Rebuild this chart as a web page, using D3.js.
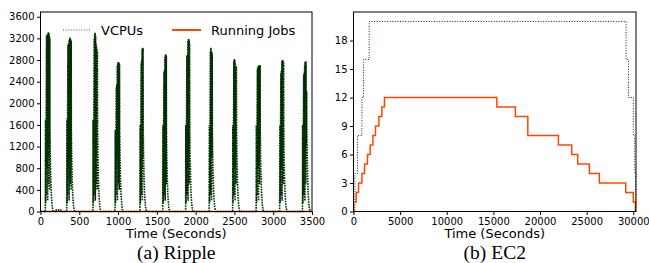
<!DOCTYPE html>
<html>
<head>
<meta charset="utf-8">
<script src="https://cdn.jsdelivr.net/npm/d3@7"></script>
<style>
  body { margin: 0; background: #fff; }
  .tick text { font-family: "DejaVu Sans", sans-serif; font-size: 10px; fill: #000; }
  .axis-label { font-family: "DejaVu Sans", sans-serif; font-size: 13px; fill: #000; }
  .caption { font-family: "Liberation Serif", "Times New Roman", serif; font-size: 19.5px; fill: #000; }
  .legend-text { font-family: "DejaVu Sans", sans-serif; font-size: 13px; fill: #000; }
</style>
</head>
<body>
<script>
// ---- data ----
const rippleXTicks = [0, 500, 1000, 1500, 2000, 2500, 3000, 3500];
const rippleYTicks = [0, 400, 800, 1200, 1600, 2000, 2400, 2800, 3200, 3600];
const ec2XTicks = [0, 5000, 10000, 15000, 20000, 25000, 30000];
const ec2YTicks = [0, 3, 6, 9, 12, 15, 18];

// Ripple VCPUs: [seconds, vcpus], one burst roughly every 300 s
const rippleVcpus = [
  [0,0],
  [62,0],[64,1700],[67,150],[78,3250],[81,300],[84,3260],[87,800],[90,3280],[93,200],[96,3300],[99,1000],[102,3315],[105,500],[108,3300],[111,1200],[114,3250],[117,400],[120,3200],[122,1500],[126,1050],[132,620],[140,300],[150,100],[162,0],
  [200,0],[205,30],[260,30],[265,0],
  [338,0],[340,1700],[343,150],[354,3080],[357,300],[360,3100],[363,800],[366,3150],[369,200],[372,3180],[375,1000],[378,3215],[381,500],[384,3200],[387,1200],[390,3190],[393,400],[396,3150],[398,1500],[402,1050],[408,620],[416,300],[426,100],[438,0],
  [676,0],[678,1700],[681,150],[692,3200],[695,300],[698,3280],[701,800],[704,3308],[707,200],[710,3250],[713,1000],[716,3100],[719,500],[722,3050],[725,1200],[728,3000],[731,400],[734,2950],[736,1500],[740,1050],[746,620],[754,300],[764,100],[776,0],
  [961,0],[963,1500],[966,150],[977,2300],[980,300],[983,2350],[986,800],[989,2700],[992,200],[995,2740],[998,1000],[1001,2760],[1004,500],[1007,2770],[1010,1200],[1013,2740],[1016,400],[1019,2720],[1021,1500],[1025,1050],[1031,620],[1039,300],[1049,100],[1061,0],
  [1282,0],[1284,1600],[1287,150],[1298,2750],[1301,300],[1304,2800],[1307,800],[1310,3000],[1313,200],[1316,3030],[1319,1000],[1322,3020],[1325,1500],[1329,1050],[1335,620],[1343,300],[1353,100],[1365,0],
  [1576,0],[1578,1600],[1581,150],[1592,2580],[1595,300],[1598,2620],[1601,800],[1604,2850],[1607,200],[1610,2890],[1613,1000],[1616,2907],[1619,500],[1622,2880],[1624,1500],[1628,1050],[1634,620],[1642,300],[1652,100],[1664,0],
  [1871,0],[1873,1600],[1876,150],[1887,2880],[1890,300],[1893,2900],[1896,800],[1899,3150],[1902,200],[1905,3180],[1908,1000],[1911,3191],[1914,500],[1917,3170],[1920,1200],[1922,3100],[1924,1500],[1928,1050],[1934,620],[1942,300],[1952,100],[1964,0],
  [2174,0],[2176,1600],[2179,150],[2190,2980],[2193,300],[2196,3030],[2199,800],[2202,3010],[2205,200],[2208,2950],[2211,1000],[2214,2920],[2216,1500],[2220,1050],[2226,620],[2234,300],[2244,100],[2256,0],
  [2477,0],[2479,1600],[2482,150],[2493,2780],[2496,300],[2499,2820],[2502,800],[2505,2800],[2508,200],[2511,2750],[2514,1000],[2517,2700],[2520,500],[2523,2680],[2526,2660],[2528,1500],[2532,1050],[2538,620],[2546,300],[2556,100],[2568,0],
  [2780,0],[2782,1600],[2785,150],[2796,2640],[2799,300],[2802,2660],[2805,800],[2808,2690],[2811,200],[2814,2700],[2817,1000],[2820,2715],[2823,500],[2826,2710],[2829,1200],[2831,2700],[2833,1500],[2837,1050],[2843,620],[2851,300],[2861,100],[2873,0],
  [3083,0],[3085,1600],[3088,150],[3099,2550],[3102,300],[3105,2600],[3108,800],[3111,2780],[3114,200],[3117,2802],[3120,1000],[3123,2790],[3126,500],[3129,2780],[3132,1200],[3134,2760],[3136,1500],[3140,1050],[3146,620],[3154,300],[3164,100],[3176,0],
  [3377,0],[3379,1600],[3382,150],[3393,2530],[3396,300],[3399,2560],[3402,800],[3405,2700],[3408,200],[3411,2760],[3414,1000],[3417,2783],[3420,500],[3423,2770],[3426,1200],[3429,2230],[3432,2200],[3434,1500],[3438,1050],[3444,620],[3452,300],[3462,100],[3474,0],
  [3500,0]
];
const rippleJobs = [[0,1],[3500,1]];

// EC2 step series: [seconds, value]
const ec2Vcpus = [[0,0],[150,4],[430,8],[900,12],[1070,16],[1680,20],[29230,16],[29480,12],[30000,8],[30150,4],[30250,0]];
const ec2Jobs = [[0,0],[20,1],[290,2],[540,3],[900,4],[1180,5],[1500,6],[1790,7],[2080,8],[2360,9],[2720,10],[3040,11],[3320,12],
  [15370,11],[17360,10],[18690,8],[21970,7],[23400,6],[24040,5],[25290,4],[26360,3],[29190,2],[30000,1],[30220,0]];

const vcpuColor = "#003000";
const jobsColor = "#ff4500";

const svg = d3.select("body").append("svg")
    .attr("width", 649)
    .attr("height", 263);

function basePlot(box, xDomain, yDomain, xTicks, yTicks, xLabel, caption){
    const x = d3.scaleLinear().domain(xDomain).range([box.left, box.right]);
    const y = d3.scaleLinear().domain(yDomain).range([box.bottom, box.top]);

    const g = svg.append("g");

    g.append("g")
        .attr("transform", `translate(0,${box.bottom})`)
        .call(d3.axisBottom(x).tickValues(xTicks).tickSize(3.5).tickPadding(2.5).tickFormat(d3.format("d")))
        .call(a => a.select(".domain").remove());
    g.append("g")
        .attr("transform", `translate(${box.left},0)`)
        .call(d3.axisLeft(y).tickValues(yTicks).tickSize(3.5).tickPadding(2.5).tickFormat(d3.format("d")))
        .call(a => a.select(".domain").remove());

    g.append("text")
        .attr("class", "axis-label")
        .attr("x", (box.left + box.right) / 2)
        .attr("y", 238)
        .attr("text-anchor", "middle")
        .text(xLabel);
    g.append("text")
        .attr("class", "caption")
        .attr("x", (box.left + box.right) / 2)
        .attr("y", 258.5)
        .attr("text-anchor", "middle")
        .text(caption);

    const lines = g.append("g");

    g.append("rect")
        .attr("x", box.left)
        .attr("y", box.top)
        .attr("width", box.right - box.left)
        .attr("height", box.bottom - box.top)
        .attr("fill", "none")
        .attr("stroke", "#000")
        .attr("stroke-width", 1);

    return {lines: lines, x: x, y: y};
}

function drawSeries(plot, data, curve, color, width, dash){
    const line = d3.line()
        .x(d => plot.x(d[0]))
        .y(d => plot.y(d[1]))
        .curve(curve);
    plot.lines.append("path")
        .datum(data)
        .attr("fill", "none")
        .attr("stroke", color)
        .attr("stroke-width", width)
        .attr("stroke-dasharray", dash)
        .attr("d", line);
}

// (a) Ripple
const ripple = basePlot({left: 40.5, right: 312, top: 12, bottom: 211.5},
    [0, 3500], [0, 3688], rippleXTicks, rippleYTicks, "Time (Seconds)", "(a) Ripple");
drawSeries(ripple, rippleVcpus, d3.curveLinear, vcpuColor, 1.6, "1.6,1");
drawSeries(ripple, rippleJobs, d3.curveLinear, jobsColor, 1.5, null);

// legend
const legend = svg.append("g");
legend.append("line")
    .attr("x1", 63).attr("x2", 91).attr("y1", 30).attr("y2", 30)
    .attr("stroke", "#2e6b2e").attr("stroke-width", 1).attr("stroke-dasharray", "1,1.6");
legend.append("text").attr("class", "legend-text")
    .attr("x", 101).attr("y", 34.5).text("VCPUs");
legend.append("line")
    .attr("x1", 172).attr("x2", 201).attr("y1", 30).attr("y2", 30)
    .attr("stroke", jobsColor).attr("stroke-width", 2);
legend.append("text").attr("class", "legend-text")
    .attr("x", 211).attr("y", 34.5).text("Running Jobs");

// (b) EC2
const ec2 = basePlot({left: 353.5, right: 636, top: 12, bottom: 211.5},
    [0, 30290], [0, 21], ec2XTicks, ec2YTicks, "Time (Seconds)", "(b) EC2");
drawSeries(ec2, ec2Vcpus, d3.curveStepAfter, vcpuColor, 1, "1,1.6");
drawSeries(ec2, ec2Jobs, d3.curveStepAfter, jobsColor, 1.5, null);
</script>
</body>
</html>
